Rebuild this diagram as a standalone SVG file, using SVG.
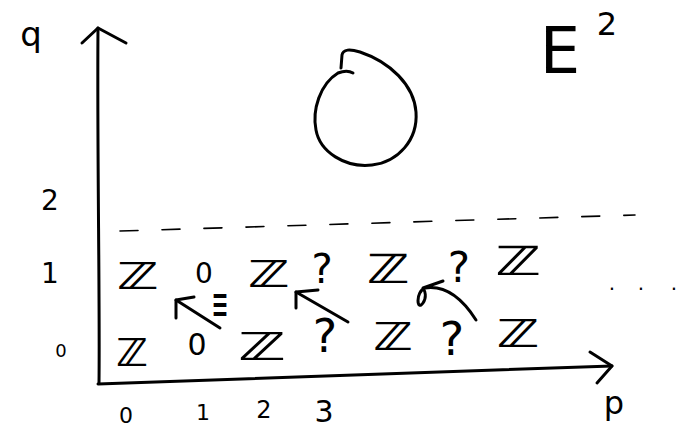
<svg xmlns="http://www.w3.org/2000/svg" width="682" height="428" viewBox="0 0 682 428">
<style>
.t{font-family:"DejaVu Sans","Liberation Sans",sans-serif;fill:#000;text-anchor:middle}
.z{font-weight:bold}
.s{fill:none;stroke:#000;stroke-width:3;stroke-linecap:round;stroke-linejoin:round}
.d{fill:none;stroke:#000;stroke-width:1.6;stroke-linecap:round;stroke-dasharray:18 24}
</style>
<rect width="682" height="428" fill="#fff"/>
<g id="axes">
<path class="s" d="M99,383 C100,300 97,150 98,28"/>
<path class="s" d="M82,43 L98,28 L126,43"/>
<path class="s" d="M98,384 C250,378 450,372 612,366"/>
<path class="s" d="M590,352 L612,366 L597,383"/>
<path class="d" d="M120,231 L635,215"/>
</g>
<g id="labels">
<text class="t" x="31" y="46" font-size="34">q</text>
<text class="t" x="614" y="414" font-size="32">p</text>
<text class="t" x="560" y="73" font-size="64">E</text>
<text class="t" x="607" y="35" font-size="32">2</text>
<text class="t" x="50" y="210" font-size="28">2</text>
<text class="t" x="50" y="283" font-size="28">1</text>
<text class="t" x="61" y="357" font-size="18">0</text>
<text class="t" x="126" y="423" font-size="22">0</text>
<text class="t" x="203" y="420" font-size="22">1</text>
<text class="t" x="264" y="418" font-size="24">2</text>
<text class="t" x="324" y="422" font-size="30">3</text>
</g>
<g id="zero-above">
<path class="s" d="M353,73 C348,70 343,71 338,73 C320,84 312,110 316,130 C320,152 345,168 372,165 C398,162 418,140 416,112 C414,85 390,62 360,52 C350,49 343,49 342,55 L341,68"/>
</g>
<g id="row1">
<text class="t z" x="138" y="289" font-size="37" textLength="42" lengthAdjust="spacingAndGlyphs">ℤ</text>
<text class="t" x="204" y="283" font-size="28">0</text>
<text class="t z" x="269" y="287" font-size="37" textLength="42" lengthAdjust="spacingAndGlyphs">ℤ</text>
<text class="t" x="322" y="283" font-size="40">?</text>
<text class="t z" x="388" y="283" font-size="40" textLength="43" lengthAdjust="spacingAndGlyphs">ℤ</text>
<text class="t" x="459" y="282" font-size="42">?</text>
<text class="t z" x="518" y="275" font-size="40" textLength="46" lengthAdjust="spacingAndGlyphs">ℤ</text>
<text class="t" x="612 641 674" y="290" font-size="20">...</text>
</g>
<g id="row0">
<text class="t z" x="132" y="366" font-size="38" textLength="32" lengthAdjust="spacingAndGlyphs">ℤ</text>
<text class="t" x="197" y="355" font-size="30">0</text>
<text class="t z" x="262" y="360" font-size="38" textLength="48" lengthAdjust="spacingAndGlyphs">ℤ</text>
<text class="t" x="325" y="352" font-size="46">?</text>
<text class="t z" x="393" y="350" font-size="38" textLength="40" lengthAdjust="spacingAndGlyphs">ℤ</text>
<text class="t" x="452" y="355" font-size="46">?</text>
<text class="t z" x="518" y="347" font-size="38" textLength="43" lengthAdjust="spacingAndGlyphs">ℤ</text>
</g>
<g id="iso">
<text class="t" x="220" y="320" font-size="48" textLength="17" lengthAdjust="spacingAndGlyphs">≡</text>
</g>
<g id="connectors">
<path class="s" d="M220,328 L176,300"/>
<path class="s" d="M176,318 L176,300 L194,297"/>
<path class="s" d="M348,322 L296,292"/>
<path class="s" d="M296,308 L296,292 L318,290"/>
<path class="s" d="M476,320 C462,298 445,285 425,288 C415,292 417,312 423,303 C427,297 425,291 423,288 L443,281"/>
</g>
</svg>
